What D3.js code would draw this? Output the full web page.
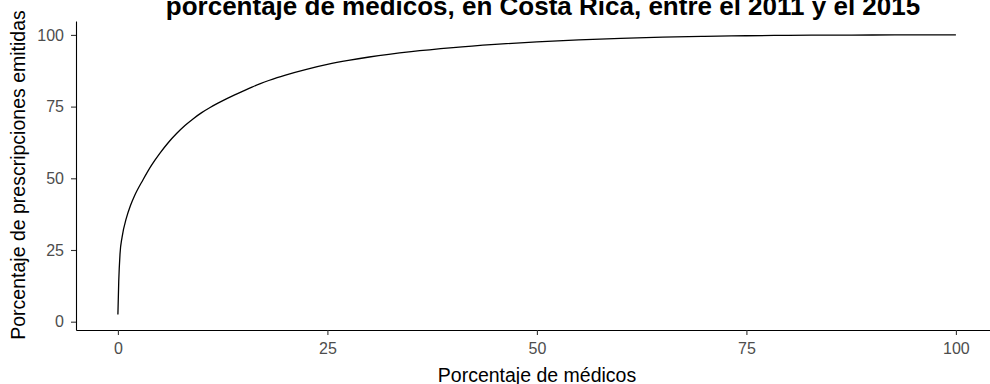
<!DOCTYPE html>
<html>
<head>
<meta charset="utf-8">
<script src="https://cdn.jsdelivr.net/npm/d3@7"></script>
<style>
  html, body { margin: 0; padding: 0; background: #fff; }
  svg { display: block; }
  text { font-family: "Liberation Sans", Arial, sans-serif; }
</style>
</head>
<body>
<svg id="chart" width="990" height="384"></svg>
<script>
// Cumulative share of prescriptions by share of physicians (Lorenz-style curve)
const pctMedicos = [0, 0.1, 0.25, 0.5, 1, 1.5, 2, 3, 4, 5, 6, 7, 8, 9, 10, 11, 12, 13, 14, 15,
  16, 17, 18, 19, 20, 22.5, 25, 27.5, 30, 35, 40, 45, 50, 55, 60, 65, 70, 75, 80, 85, 90, 95, 100];
const pctPrescripciones = [2.5, 14, 23.5, 29.5, 36, 40.5, 44, 49.5, 54.5, 58.7, 62.4, 65.6, 68.4, 70.8, 72.9, 74.7, 76.3, 77.8, 79.2, 80.5,
  81.8, 83.0, 84.1, 85.1, 86.0, 88.0, 89.7, 91.1, 92.3, 94.2, 95.6, 96.7, 97.6, 98.3, 98.8, 99.2, 99.5, 99.7, 99.85, 99.93, 99.97, 100, 100];
const xTicks = [0, 25, 50, 75, 100];
const yTicks = [0, 25, 50, 75, 100];

const titulo = "porcentaje de médicos, en Costa Rica, entre el 2011 y el 2015";
const tituloX = "Porcentaje de médicos";
const tituloY = "Porcentaje de prescripciones emitidas";

const svg = d3.select("#chart");

// Panel geometry
const panelLeft = 76, panelBottom = 330, panelTop = 21;
const x = d3.scaleLinear().domain([-5, 105]).range([panelLeft, panelLeft + 110 * 8.38]);
const y = d3.scaleLinear().domain([-2.9, 104.85]).range([panelBottom, panelTop]);

const data = pctMedicos.map((v, i) => ({ x: v, y: pctPrescripciones[i] }));

// Curve
svg.append("path")
  .datum(data)
  .attr("fill", "none")
  .attr("stroke", "#000")
  .attr("stroke-width", 1.3)
  .attr("d", d3.line().x(d => x(d.x)).y(d => y(d.y)).curve(d3.curveMonotoneX));

// Axes
const xAxis = svg.append("g")
  .attr("transform", `translate(0,${panelBottom})`)
  .call(d3.axisBottom(x).tickValues(xTicks).tickSize(5).tickPadding(8).tickSizeOuter(0));
const yAxis = svg.append("g")
  .attr("transform", `translate(${panelLeft},0)`)
  .call(d3.axisLeft(y).tickValues(yTicks).tickSize(5).tickPadding(7).tickSizeOuter(0));

[xAxis, yAxis].forEach(g => {
  g.select(".domain").attr("stroke", "#000").attr("stroke-width", 1.1);
  g.selectAll(".tick line").attr("stroke", "#333").attr("stroke-width", 1.1);
  g.selectAll(".tick text")
    .attr("fill", "#4d4d4d")
    .style("font-size", "16px")
    .style("font-family", "'Liberation Sans', Arial, sans-serif");
});

// Titles
svg.append("text")
  .attr("x", 543).attr("y", 15)
  .attr("text-anchor", "middle")
  .style("font-size", "26px").style("font-weight", "bold")
  .attr("fill", "#000")
  .text(titulo);

svg.append("text")
  .attr("x", 537).attr("y", 382)
  .attr("text-anchor", "middle")
  .style("font-size", "19.5px")
  .attr("fill", "#000")
  .text(tituloX);

svg.append("text")
  .attr("transform", "translate(25,175) rotate(-90)")
  .attr("text-anchor", "middle")
  .style("font-size", "19.5px")
  .attr("fill", "#000")
  .text(tituloY);
</script>
</body>
</html>
